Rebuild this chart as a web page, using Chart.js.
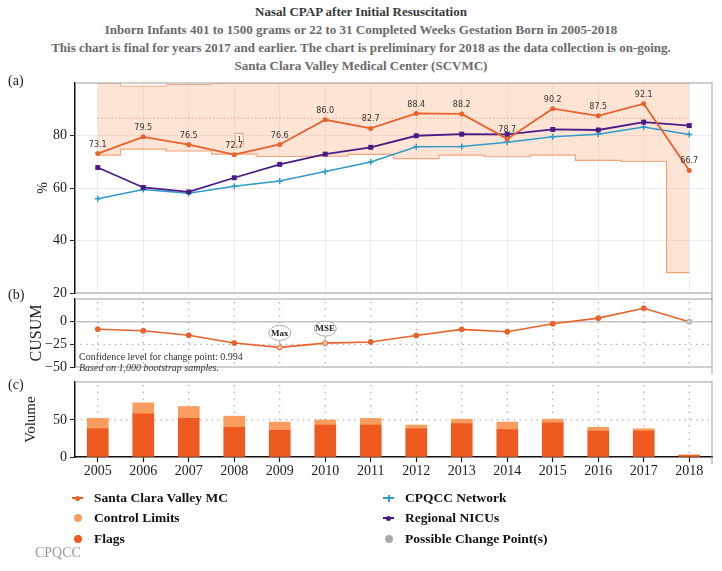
<!DOCTYPE html>
<html>
<head>
<meta charset="utf-8">
<script src="https://cdn.jsdelivr.net/npm/chart.js@4.4.0/dist/chart.umd.min.js"></script>
<style>
  body { margin: 0; width: 722px; height: 571px; position: relative; background: #fff; overflow: hidden;
         font-family: "Liberation Serif", "DejaVu Serif", serif; }
  canvas { position: absolute; left: 0; top: 0; }
  .head { position: absolute; left: 0; width: 722px; text-align: center; font-weight: bold; font-size: 13px; color: #6a6a6a; line-height: 18px; }
  .panel { position: absolute; left: 8px; font-size: 14px; color: #222; }
  .note { position: absolute; left: 79px; font-size: 10px; color: #333; }
  .leg { position: absolute; font-weight: bold; font-size: 13.5px; color: #111; line-height: 16px; }
  .mk { position: absolute; }
  .dot { width: 8px; height: 8px; border-radius: 50%; }
  .ln { width: 11px; height: 2px; }
</style>
</head>
<body>
<div class="head" style="top:3px;color:#3a3a3a">Nasal CPAP after Initial Resuscitation</div>
<div class="head" style="top:21px">Inborn Infants 401 to 1500 grams or 22 to 31 Completed Weeks Gestation Born in 2005-2018</div>
<div class="head" style="top:39px">This chart is final for years 2017 and earlier. The chart is preliminary for 2018 as the data collection is on-going.</div>
<div class="head" style="top:57px">Santa Clara Valley Medical Center (SCVMC)</div>

<canvas id="chartA" width="722" height="571"></canvas>
<canvas id="chartB" width="722" height="571"></canvas>
<canvas id="chartC" width="722" height="571"></canvas>

<div class="panel" style="top:73px">(a)</div>
<div class="panel" style="top:287px">(b)</div>
<div class="panel" style="top:377px">(c)</div>

<div class="note" style="top:351px">Confidence level for change point: 0.994</div>
<div class="note" style="top:362px;font-style:italic">Based on 1,000 bootstrap samples.</div>

<div id="legend"></div>
<div style="position:absolute;left:35px;top:545px;font-size:14px;color:#999">CPQCC</div>

<script>
const years = ['2005','2006','2007','2008','2009','2010','2011','2012','2013','2014','2015','2016','2017','2018']

// panel (a) rates, %
const scvmc = [73.1, 79.5, 76.5, 72.7, 76.6, 86.0, 82.7, 88.4, 88.2, 78.7, 90.2, 87.5, 92.1, 66.7]
const network = [55.9, 59.4, 58.0, 60.7, 62.7, 66.3, 69.9, 75.7, 75.8, 77.4, 79.5, 80.5, 83.2, 80.4]
const regional = [67.8, 60.2, 58.5, 63.9, 69.0, 72.9, 75.5, 79.9, 80.5, 80.4, 82.3, 82.1, 85.1, 83.8]
const upperLimit = [100, 98.8, 99.4, 100, 100, 100, 100, 100, 100, 100, 100, 100, 100, 100]
const lowerLimit = [72.5, 74.8, 74.1, 72.9, 72.0, 72.1, 72.8, 71.2, 72.5, 71.9, 72.5, 70.5, 70.1, 27.8]
const centerLine = 86.6
const rateTicks = [20, 40, 60, 80]
const flagNotes = { '2008': '1' }

// panel (b) cusum
const cusum = [-8.3, -10.1, -15.0, -23.6, -28.4, -23.7, -22.4, -15.3, -8.5, -11.1, -2.3, 3.9, 14.7, 0]
const cusumTicks = [-50, -25, 0]
const changePoints = [{ year: '2009', label: 'Max' }, { year: '2010', label: 'MSE' }]

// panel (c) volume
const volumeYes = [38, 58, 52, 40, 36, 43, 43, 38, 45, 37, 46, 35, 35, 2]
const volumeNo = [14, 15, 16, 15, 11, 7, 9, 5, 6, 10, 5, 5, 3, 1]
const volumeTicks = [0, 50]

const serif = '"Liberation Serif", "DejaVu Serif", serif'
const orange = '#E8622B'
const blue = '#2F9BC8'
const purple = '#4A1B86'

const minus = v => String(v).replace('-', '\u2212')

// grey panel frame, extra reference lines and dotted year lines
const panelFrame = {
  id: 'panelFrame',
  beforeDatasetsDraw(chart, args, opts) {
    const { ctx, chartArea: a, scales } = chart
    ctx.save()
    ;(opts.hLines || []).forEach(h => {
      const y = scales.y.getPixelForValue(h.value)
      ctx.beginPath()
      ctx.setLineDash(h.dash || [])
      ctx.strokeStyle = h.color
      ctx.lineWidth = h.width
      ctx.moveTo(a.left, y)
      ctx.lineTo(a.right, y)
      ctx.stroke()
    })
    if (opts.vDotted) {
      ctx.setLineDash([1.2, 5.5])
      ctx.strokeStyle = '#8a8a8a'
      ctx.lineWidth = 1
      chart.data.labels.forEach((l, i) => {
        const x = scales.x.getPixelForValue(i)
        ctx.beginPath()
        ctx.moveTo(x, a.top + 3)
        ctx.lineTo(x, a.bottom)
        ctx.stroke()
      })
    }
    ctx.restore()
  },
  afterDraw(chart, args, opts) {
    const { ctx, chartArea: a } = chart
    ctx.save()
    ctx.strokeStyle = 'rgba(150,150,150,0.6)'
    ctx.lineWidth = 1.5
    ctx.beginPath()
    ctx.moveTo(a.left, a.top)
    ctx.lineTo(a.right, a.top)
    if (opts.bottom) {
      ctx.moveTo(a.left, a.bottom)
      ctx.lineTo(a.right, a.bottom)
    }
    ctx.moveTo(a.right, a.top - 1)
    ctx.lineTo(a.right, a.bottom + 7)
    ctx.stroke()
    ctx.restore()
  }
}

const valueLabels = {
  id: 'valueLabels',
  afterDatasetsDraw(chart) {
    const { ctx, scales } = chart
    const meta = chart.getDatasetMeta(0)
    ctx.save()
    Object.keys(flagNotes).forEach(yr => {
      const pt = meta.data[years.indexOf(yr)]
      const top = scales.y.getPixelForValue(80.8)
      const bot = scales.y.getPixelForValue(75.9)
      ctx.fillStyle = 'rgba(255,240,230,0.9)'
      ctx.strokeStyle = '#F2A27C'
      ctx.lineWidth = 1
      ctx.fillRect(pt.x + 1, top, 8, bot - top)
      ctx.strokeRect(pt.x + 1, top, 8, bot - top)
      ctx.fillStyle = '#222'
      ctx.font = '9px ' + serif
      ctx.textAlign = 'center'
      ctx.textBaseline = 'middle'
      ctx.fillText(flagNotes[yr], pt.x + 5, (top + bot) / 2)
    })
    ctx.font = '8px "DejaVu Sans"'
    ctx.fillStyle = '#333'
    ctx.textAlign = 'center'
    ctx.textBaseline = 'middle'
    meta.data.forEach((pt, i) => ctx.fillText(scvmc[i].toFixed(1), pt.x, pt.y - 9))
    ctx.restore()
  }
}

const callouts = {
  id: 'callouts',
  afterDatasetsDraw(chart) {
    const { ctx } = chart
    const meta = chart.getDatasetMeta(0)
    ctx.save()
    changePoints.forEach(cp => {
      const pt = meta.data[years.indexOf(cp.year)]
      const cy = pt.y - 14.5
      ctx.strokeStyle = '#aaa'
      ctx.lineWidth = 1
      ctx.beginPath()
      ctx.moveTo(pt.x, pt.y - 3)
      ctx.lineTo(pt.x, cy + 7.5)
      ctx.stroke()
      ctx.beginPath()
      ctx.ellipse(pt.x, cy, 11, 7.5, 0, 0, Math.PI * 2)
      ctx.fillStyle = '#fff'
      ctx.fill()
      ctx.stroke()
      ctx.fillStyle = '#222'
      ctx.font = 'bold 9px ' + serif
      ctx.textAlign = 'center'
      ctx.textBaseline = 'middle'
      ctx.fillText(cp.label, pt.x, cy + 0.5)
    })
    ctx.restore()
  }
}

function yAxis(min, max, ticks, title, titleSize, titlePad) {
  return {
    min: min,
    max: max,
    afterBuildTicks: s => { s.ticks = ticks.map(v => ({ value: v })) },
    afterFit: s => { s.width = 75 },
    ticks: { font: { family: serif, size: 14 }, color: '#222', padding: 3, callback: v => minus(v) },
    grid: { drawOnChartArea: false, tickColor: '#222', tickLength: 5 },
    border: { color: '#111', width: 1.5 },
    title: { display: true, text: title, color: '#222', font: { family: serif, size: titleSize }, padding: { top: titlePad } }
  }
}

const common = {
  responsive: false,
  animation: false,
  events: [],
  plugins: { legend: { display: false }, tooltip: { enabled: false } }
}

// ---- panel (a)
const yA = yAxis(20, 100, rateTicks, '%', 14, 35)
yA.grid = { color: '#ececec', tickColor: '#222', tickLength: 5 }

new Chart(document.getElementById('chartA'), {
  type: 'line',
  data: {
    labels: years,
    datasets: [
      { data: scvmc, borderColor: orange, backgroundColor: orange, borderWidth: 1.8, pointRadius: 2.5, pointBorderWidth: 0, order: 0 },
      { data: regional, borderColor: purple, backgroundColor: purple, borderWidth: 1.8, pointStyle: 'rect', pointRadius: 3.5, pointBorderWidth: 0, order: 1 },
      { data: network, borderColor: blue, backgroundColor: blue, borderWidth: 1.5, pointStyle: 'cross', pointRadius: 3, pointBorderWidth: 1.5, order: 2 },
      { data: years.map(() => centerLine), borderColor: '#F08A5C', borderWidth: 1, borderDash: [1, 2.5], pointRadius: 0, order: 3 },
      { data: upperLimit, stepped: 'middle', borderColor: '#F5AD88', borderWidth: 1, pointRadius: 0, fill: '+1',
        backgroundColor: 'rgba(250,165,115,0.3)', order: 4 },
      { data: lowerLimit, stepped: 'middle', borderColor: '#F5A47C', borderWidth: 1.2, pointRadius: 0, order: 5 }
    ]
  },
  options: {
    ...common,
    layout: { padding: { top: 83, bottom: 278, left: 0, right: 10 } },
    plugins: { ...common.plugins, panelFrame: { bottom: true } },
    scales: {
      x: { offset: true, grid: { offset: false, color: '#ececec', drawTicks: false }, ticks: { display: false }, border: { display: false } },
      y: yA
    }
  },
  plugins: [panelFrame, valueLabels]
})

// ---- panel (b)
new Chart(document.getElementById('chartB'), {
  type: 'line',
  data: {
    labels: years,
    datasets: [{
      data: cusum, borderColor: orange, borderWidth: 1.6, pointRadius: 2.5,
      pointBackgroundColor: years.map(y => (y === '2009' || y === '2010') ? '#F6C9B4' : (y === '2018' ? '#c9c9c9' : orange)),
      pointBorderColor: years.map(y => y === '2018' ? '#b0a0a0' : orange),
      pointBorderWidth: 1
    }]
  },
  options: {
    ...common,
    layout: { padding: { top: 299, bottom: 196, left: 0, right: 10 } },
    plugins: {
      ...common.plugins,
      panelFrame: {
        bottom: true, vDotted: true,
        hLines: [
          { value: 0, color: '#c4c4c4', width: 1.5 },
          { value: -25, color: '#8a8a8a', width: 1, dash: [1.2, 4.5] }
        ]
      }
    },
    scales: {
      x: { offset: true, display: true, grid: { display: false }, ticks: { display: false }, border: { display: false } },
      y: yAxis(-50, 25, cusumTicks, 'CUSUM', 16, 27)
    }
  },
  plugins: [panelFrame, callouts]
})

// ---- panel (c)
new Chart(document.getElementById('chartC'), {
  type: 'bar',
  data: {
    labels: years,
    datasets: [
      { data: volumeYes, backgroundColor: '#EE5A20', barThickness: 21, stack: 'v' },
      { data: volumeNo, backgroundColor: '#F99C60', barThickness: 21, stack: 'v' }
    ]
  },
  options: {
    ...common,
    layout: { padding: { top: 382, bottom: 84, left: 0, right: 10 } },
    plugins: {
      ...common.plugins,
      panelFrame: { vDotted: true, hLines: [{ value: 50, color: '#8a8a8a', width: 1, dash: [1.2, 4.5] }] }
    },
    scales: {
      x: {
        stacked: true,
        afterFit: s => { s.height = 30 },
        grid: { offset: false, drawOnChartArea: false, tickColor: '#111', tickLength: 5, tickWidth: 1.2 },
        ticks: { font: { family: serif, size: 14 }, color: '#222', padding: 1, maxRotation: 0 },
        border: { color: '#111', width: 1.5 }
      },
      y: Object.assign(yAxis(0, 101, volumeTicks, 'Volume', 15, 22), { stacked: true })
    }
  },
  plugins: [panelFrame]
})

// legend
const legendItems = [
  { text: 'Santa Clara Valley MC', x: 72, y: 490, kind: 'line', color: orange, mark: 'dot' },
  { text: 'Control Limits', x: 72, y: 510, kind: 'dot', color: '#F99C60' },
  { text: 'Flags', x: 72, y: 531, kind: 'dot', color: '#EE5A20' },
  { text: 'CPQCC Network', x: 383, y: 490, kind: 'line', color: blue, mark: 'cross' },
  { text: 'Regional NICUs', x: 383, y: 510, kind: 'line', color: purple, mark: 'dot' },
  { text: 'Possible Change Point(s)', x: 383, y: 531, kind: 'dot', color: '#aaa' }
]
const legend = document.getElementById('legend')
legendItems.forEach(it => {
  let html = ''
  if (it.kind === 'line') {
    html += `<div class="mk ln" style="left:${it.x}px;top:${it.y + 7}px;background:${it.color}"></div>`
    if (it.mark === 'dot') {
      html += `<div class="mk" style="left:${it.x + 3}px;top:${it.y + 5.5}px;width:5px;height:5px;border-radius:50%;background:${it.color}"></div>`
    } else {
      html += `<div class="mk" style="left:${it.x + 4.5}px;top:${it.y + 4.5}px;width:2px;height:7px;background:${it.color}"></div>`
    }
  } else {
    html += `<div class="mk dot" style="left:${it.x + 1.5}px;top:${it.y + 4}px;background:${it.color}"></div>`
  }
  html += `<div class="leg" style="left:${it.x + 22}px;top:${it.y}px">${it.text}</div>`
  legend.insertAdjacentHTML('beforeend', html)
})
</script>
</body>
</html>
